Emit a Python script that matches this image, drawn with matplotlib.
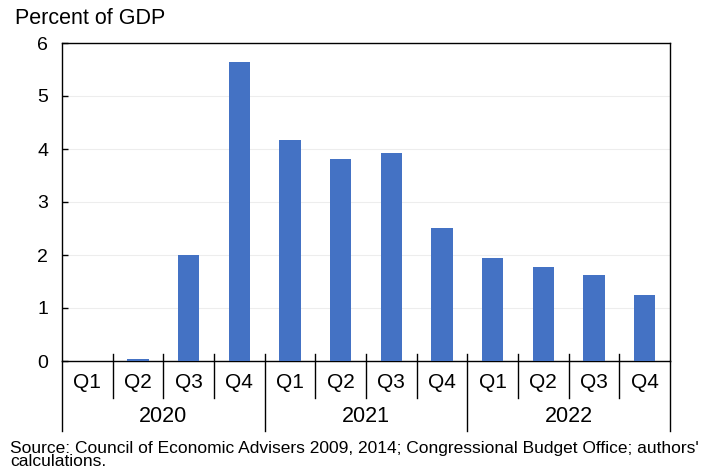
import matplotlib
matplotlib.use("Agg")
import matplotlib.pyplot as plt
import matplotlib.transforms as mtransforms

plt.rcParams['font.family'] = ['Liberation Sans', 'DejaVu Sans']

years = ["2020", "2021", "2022"]
quarters = ["Q1", "Q2", "Q3", "Q4"]
values = [0.0, 0.03, 2.0, 5.64, 4.17, 3.82, 3.93, 2.51, 1.94, 1.77, 1.62, 1.24]
yticks = [0, 1, 2, 3, 4, 5, 6]
ylabel = "Percent of GDP"
source = ("Source: Council of Economic Advisers 2009, 2014; Congressional Budget Office; authors'\n"
          "calculations.")

fig = plt.figure(figsize=(7.23, 4.76), dpi=100)
ax = fig.add_axes([62/723, 1-361/476, (670-62)/723, (361-43)/476])

n = len(values)
x = list(range(n))
ax.bar(x, values, width=0.42, color="#4472C4", zorder=3)
ax.set_xlim(-0.5, n-0.5)
ax.set_ylim(0, 6)
ax.set_yticks(yticks)
ax.set_yticklabels([str(v) for v in yticks], fontsize=14)
ax.tick_params(axis='y', direction='in', length=4, width=1, pad=10)
ax.set_xticks([])
ax.grid(axis='y', color='#EDEDED', lw=0.8, zorder=0)
for s in ax.spines.values():
    s.set_color('black'); s.set_linewidth(1.0)

trans = mtransforms.blended_transform_factory(ax.transData, ax.transAxes)
nq = len(quarters)
for i in range(1, n):
    xb = i - 0.5
    bottom = -0.22 if i % nq == 0 else -0.116
    ax.plot([xb, xb], [0.022, bottom], color='black', lw=1.0, transform=trans, clip_on=False, zorder=4)
for xb in (-0.5, n-0.5):
    ax.plot([xb, xb], [0, -0.22], color='black', lw=1.0, transform=trans, clip_on=False, zorder=4)

for i in range(n):
    ax.text(i, -0.069, quarters[i % nq], transform=trans, ha='center', va='center', fontsize=15)
for j, yr in enumerate(years):
    ax.text(j*nq + (nq-1)/2, -0.176, yr, transform=trans, ha='center', va='center', fontsize=15.5)

fig.text(15/723, 1-18/476, ylabel, ha='left', va='center', fontsize=15.5)
fig.text(10/723, 1-455/476, source, ha='left', va='center', fontsize=12.5, linespacing=0.85)

fig.savefig("out.png", dpi=100)
